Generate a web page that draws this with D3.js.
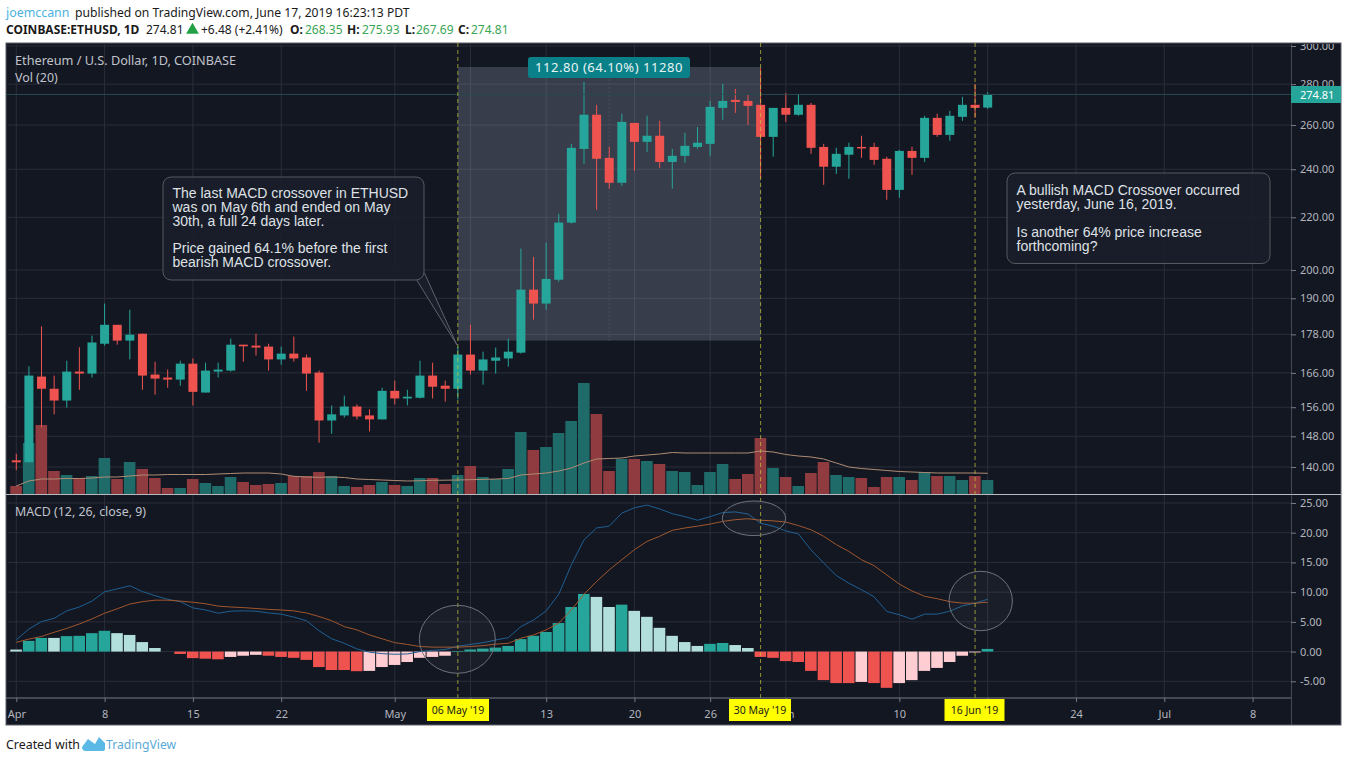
<!DOCTYPE html>
<html>
<head>
<meta charset="utf-8">
<script src="https://d3js.org/d3.v7.min.js"></script>
<style>
html, body { margin: 0; padding: 0; background: #fff; }
svg { display: block; }
text { font-family: "Noto Sans", sans-serif; }
.note text { font-family: "Liberation Sans", Arial, sans-serif; font-size: 14px; fill: #dfe1e6; }
.axis text { fill: #b2b5be; font-size: 11px; }
.axis path, .axis line { stroke: #787b86; }
</style>
</head>
<body>
<div id="chart"></div>
<script>
var days = ["04-01","04-02","04-03","04-04","04-05","04-06","04-07","04-08","04-09","04-10","04-11","04-12","04-13","04-14","04-15","04-16","04-17","04-18","04-19","04-20","04-21","04-22","04-23","04-24","04-25","04-26","04-27","04-28","04-29","04-30",
  "05-01","05-02","05-03","05-04","05-05","05-06","05-07","05-08","05-09","05-10","05-11","05-12","05-13","05-14","05-15","05-16","05-17","05-18","05-19","05-20","05-21","05-22","05-23","05-24","05-25","05-26","05-27","05-28","05-29","05-30","05-31",
  "06-01","06-02","06-03","06-04","06-05","06-06","06-07","06-08","06-09","06-10","06-11","06-12","06-13","06-14","06-15","06-16","06-17"];

var opens = [141.7,141.2,164.9,161.3,157.9,166.4,165.8,175.0,181.1,176.0,178.2,165.5,164.6,164.0,168.8,160.2,166.4,166.7,174.7,174.4,174.1,170.1,171.9,170.7,166.1,152.3,153.7,156.2,153.7,152.6,
  160.7,158.5,158.7,165.2,162.2,161.3,171.6,166.7,169.7,170.4,172.2,193.0,188.2,196.5,217.9,249.0,264.9,245.0,234.2,261.0,252.2,255.0,243.2,245.9,249.9,251.3,268.2,272.1,271.6,269.7,254.5,
  268.2,264.9,269.7,249.9,241.1,246.4,249.9,249.9,244.6,231.2,248.1,245.0,263.4,255.4,263.9,269.7,268.35];
var highs = [143.4,168.0,180.6,165.2,169.7,173.9,177.6,188.2,181.1,186.1,178.2,169.4,167.0,169.7,170.4,169.1,169.1,176.6,174.7,178.2,175.0,174.1,177.3,171.6,166.7,156.5,159.3,156.8,155.4,161.6,
  163.7,161.0,169.7,169.1,163.7,174.1,181.1,172.5,173.8,176.6,207.9,204.8,210.1,221.4,251.3,281.2,269.7,250.0,265.4,261.0,264.4,262.0,249.0,256.4,259.1,271.6,280.1,277.6,274.6,288.2,268.2,
  275.6,275.1,270.6,251.3,249.5,251.8,255.0,251.8,245.5,248.6,250.0,264.4,265.4,266.8,273.6,280.1,275.93];
var lows = [139.2,141.2,150.4,154.0,155.9,161.0,164.6,174.4,174.7,170.1,161.0,159.6,161.6,162.2,156.5,160.2,164.6,166.4,169.4,171.3,166.7,168.5,169.4,160.7,146.3,148.7,153.1,152.6,149.3,152.6,
  156.8,156.5,158.5,158.5,157.6,158.2,165.5,162.5,165.8,167.9,171.9,182.8,186.1,195.8,217.5,242.4,223.1,231.7,232.9,239.3,247.7,240.6,231.7,242.8,249.0,245.9,262.5,265.8,260.1,235.9,245.5,
  261.5,264.4,246.8,233.3,238.0,235.9,245.0,241.9,227.1,227.9,237.6,243.2,254.5,252.7,262.0,263.4,267.69];
var closes = [141.2,165.2,161.3,157.9,166.4,165.8,175.4,181.1,176.0,177.9,165.2,164.3,164.0,168.8,160.4,166.7,167.0,174.7,174.2,173.8,170.1,171.9,170.4,165.8,152.3,154.0,156.2,153.4,152.6,160.7,
  158.5,159.0,165.2,161.9,161.3,171.6,166.7,170.1,170.7,172.5,193.0,188.2,196.8,217.9,249.5,264.9,244.6,234.2,261.5,252.2,255.0,243.2,245.9,250.4,251.8,268.7,271.6,271.1,269.2,254.5,268.2,
  264.9,269.7,249.5,241.1,246.8,249.9,249.5,244.1,231.2,248.1,245.0,263.4,255.4,264.4,269.7,268.2,274.81];

var volumes = [8,51,69,23,19,16,18,36,15,32,25,16,6,6,15,11,8,17,12,9,10,11,18,18,22,18,8,7,9,12,
  9,8,16,16,10,19,28,17,15,25,62,44,47,61,73,111,80,23,35,35,33,30,23,22,9,22,30,15,20,56,26,
  17,8,21,32,19,17,16,7,17,17,14,22,18,18,14,18,14];
var volumeMA = [8,13,15,15,15.5,15.5,16,17,17,18,19,19,19.5,19.5,19.5,19.5,20,20.5,21,21,21,20,17.7,17,16.7,17,16.5,15,14.5,14,
  13.5,13,13.3,13.7,13.8,14,14.3,14.6,15,15.5,19,20,21,23,26,31,35,35.5,36,38,39,40,41.5,41,41,41,41,41,41,43,42,
  39.5,38,37,35,31,27,25.5,24.5,23.5,22.5,22,21.5,21,21,21,21,20.7];

var macdLine = [1.97,3.8,5.05,5.6,6.85,7.5,8.5,10.05,10.55,11.07,10.1,9.4,8.8,8.4,7.35,7.0,6.45,6.8,6.85,6.8,6.5,6.3,5.8,5.2,3.5,2.15,1.4,0.45,-0.1,-0.35,
  -0.45,-0.4,0,0.2,0.35,0.9,1.2,1.5,1.95,2.35,4.2,5.3,6.85,9.65,14.6,18.8,20.8,21.1,23.3,24.2,24.65,24,23.2,22.7,22.1,22.7,23.4,23.5,23.15,21.6,21.1,
  20.3,19.8,17.1,14.9,12.8,11.5,10.4,9.2,6.75,6.2,5.45,6.3,6.3,6.8,7.7,8.15,8.8];
var signalLine = [1.55,2.1,2.55,3.25,3.9,4.65,5.5,6.45,7.2,8.0,8.4,8.65,8.65,8.5,8.3,8.05,7.65,7.5,7.4,7.25,7.1,7.0,6.85,6.5,5.9,5.2,4.2,3.65,2.8,2.15,
  1.5,1.2,0.85,0.75,0.75,0.75,0.85,1.0,1.25,1.4,2.25,2.8,3.65,4.8,7,9.65,11.8,13.75,15.45,17.15,18.55,19.4,20.4,20.8,21.1,21.45,21.9,22.2,22.35,22.1,22,
  21.8,21.2,20.5,19.4,18,16.85,15.45,14.45,12.9,11.35,10.2,9.3,8.9,8.4,8.15,8.15,8.3];
var histogram = [0.34,1.8,2.3,2.3,2.6,2.65,3.1,3.5,3.1,2.8,1.6,0.6,0,-0.4,-1.1,-1.2,-1.3,-0.9,-0.7,-0.55,-0.7,-0.9,-1.05,-1.4,-2.6,-3.1,-3.1,-3.3,-3.25,-2.6,
  -2.25,-1.75,-1.05,-0.9,-0.7,0.1,0.35,0.5,0.67,0.95,2.1,2.65,3.3,4.8,7.5,9.7,9.2,7.5,7.9,6.85,5.85,4.0,2.65,1.6,0.95,1.3,1.45,1.1,0.6,-0.9,-1.05,
  -1.6,-1.75,-3.25,-4.8,-5.3,-5.3,-5.1,-5.3,-6.1,-5.3,-4.8,-3.25,-2.75,-1.75,-0.7,-0.15,0.45];

var priceTicks = [300,280,260,240,220,200,190,178,166,156,148,140];
var macdTicks = [25,20,15,10,5,0,-5];
var timeTicks = ["04-01","04-08","04-15","04-22","05-01","05-07","05-13","05-20","05-26","06-01","06-10","06-17","06-24","07-01","07-08"];
// 7 and 17 sit under the yellow date boxes in the original
var timeLabels = ["Apr","8","15","22","May","","13","20","26","Jun","10","","24","Jul","8"];
var crossDays = ["05-06","05-30","06-16"];
var crossLabels = ["06 May '19","30 May '19","16 Jun '19"];
var rangeLow = 176.0, rangeHigh = 288.8;
var lastPrice = 274.81;

var width = 1348, height = 762;
var left = 6, right = 1341, axisX = 1291, top_ = 43, paneBottom = 494, timeY = 698, bottom = 725;
var up = "#26a69a", down = "#ef5350", gridColor = "#2a2e3a";

var parseDay = d3.utcParse("%Y-%m-%d");
function toDate(s) { return parseDay("2019-" + s); }

var x = d3.scaleUtc().domain([toDate("04-01"), toDate("07-08")]).range([16.3, 1252.6]);
var yPrice = d3.scaleLog().domain([300, 140]).range([46, 467]);
var yVol = d3.scaleLinear().domain([0, 120]).range([paneBottom, paneBottom - 120]);
var yMacd = d3.scaleLinear().domain([25, -5]).range([503, 681.3]);

var bars = days.map(function(d, i) {
  return {x: x(toDate(d)), o: opens[i], h: highs[i], l: lows[i], c: closes[i], v: volumes[i],
    hist: histogram[i], prev: i > 0 ? histogram[i - 1] : 1};
});

var svg = d3.select("#chart").append("svg").attr("width", width).attr("height", height);

svg.append("rect").attr("x", left).attr("y", top_).attr("width", right - left).attr("height", bottom - top_)
  .attr("fill", "#131722").attr("stroke", "#5d606b");

svg.append("clipPath").attr("id", "paneclip").append("rect")
  .attr("x", 0).attr("y", top_ + 1).attr("width", width).attr("height", bottom - top_);

// grid
var grid = svg.append("g").attr("stroke", gridColor);
grid.selectAll(".gv").data(timeTicks).enter().append("line")
  .attr("x1", function(d) { return x(toDate(d)); }).attr("x2", function(d) { return x(toDate(d)); })
  .attr("y1", top_).attr("y2", timeY);
grid.selectAll(".gp").data(priceTicks).enter().append("line")
  .attr("x1", left).attr("x2", axisX)
  .attr("y1", function(d) { return yPrice(d); }).attr("y2", function(d) { return yPrice(d); });
grid.selectAll(".gm").data(macdTicks).enter().append("line")
  .attr("x1", left).attr("x2", axisX)
  .attr("y1", function(d) { return yMacd(d); }).attr("y2", function(d) { return yMacd(d); });

// price range tool
var x0 = x(toDate("05-06")), x1 = x(toDate("05-30"));
svg.append("rect").attr("x", x0).attr("y", yPrice(rangeHigh))
  .attr("width", x1 - x0).attr("height", yPrice(rangeLow) - yPrice(rangeHigh))
  .attr("fill", "#9ca7be").attr("fill-opacity", 0.27);
svg.append("line").attr("x1", (x0 + x1) / 2).attr("x2", (x0 + x1) / 2)
  .attr("y1", yPrice(rangeHigh)).attr("y2", yPrice(rangeLow))
  .attr("stroke", "#4c5262").attr("stroke-dasharray", "2,2");

// volume
svg.selectAll(".vol").data(bars).enter().append("rect")
  .attr("class", "vol")
  .attr("x", function(d) { return d.x - 6; })
  .attr("y", function(d) { return yVol(d.v); })
  .attr("width", 11.6)
  .attr("height", function(d) { return yVol(0) - yVol(d.v); })
  .attr("fill", function(d) { return d.c >= d.o ? "#1f6b69" : "#8f3b3f"; });

svg.append("path").datum(volumeMA)
  .attr("fill", "none").attr("stroke", "#b08c74").attr("stroke-width", 1)
  .attr("d", d3.line().x(function(d, i) { return bars[i].x; }).y(function(d) { return yVol(d); }));

// candles
var candle = svg.selectAll(".candle").data(bars).enter().append("g").attr("class", "candle")
  .attr("fill", function(d) { return d.c >= d.o ? up : down; })
  .attr("stroke", function(d) { return d.c >= d.o ? up : down; });
candle.append("line")
  .attr("x1", function(d) { return d.x; }).attr("x2", function(d) { return d.x; })
  .attr("y1", function(d) { return yPrice(d.h); }).attr("y2", function(d) { return yPrice(d.l); });
candle.append("rect")
  .attr("stroke", "none")
  .attr("x", function(d) { return d.x - 4.5; })
  .attr("width", 9)
  .attr("y", function(d) { return yPrice(Math.max(d.o, d.c)); })
  .attr("height", function(d) { return Math.max(1.5, Math.abs(yPrice(d.o) - yPrice(d.c))); });

// last price line
svg.append("line").attr("x1", left).attr("x2", axisX)
  .attr("y1", yPrice(lastPrice)).attr("y2", yPrice(lastPrice))
  .attr("stroke", "#264a4f");

// pane separator
svg.append("line").attr("x1", left).attr("x2", right).attr("y1", paneBottom + 0.5).attr("y2", paneBottom + 0.5)
  .attr("stroke", "#b8bac0");

// macd histogram
function histColor(d) {
  if (d.hist >= 0) return d.prev < d.hist ? "#26a69a" : "#b2dfdb";
  return d.prev < d.hist ? "#ffcdd2" : "#ef5350";
}
svg.selectAll(".hist").data(bars).enter().append("rect")
  .attr("class", "hist")
  .attr("x", function(d) { return d.x - 6; })
  .attr("width", 11.6)
  .attr("y", function(d) { return Math.min(yMacd(0), yMacd(d.hist)); })
  .attr("height", function(d) { return Math.abs(yMacd(d.hist) - yMacd(0)); })
  .attr("fill", histColor);

var macdPath = d3.line().x(function(d, i) { return bars[i].x; }).y(function(d) { return yMacd(d); });
svg.append("path").attr("d", macdPath(macdLine)).attr("fill", "none").attr("stroke", "#1f5f92");
svg.append("path").attr("d", macdPath(signalLine)).attr("fill", "none").attr("stroke", "#a0562e");

// crossover dashes
svg.selectAll(".cross").data(crossDays).enter().append("line")
  .attr("x1", function(d) { return x(toDate(d)); }).attr("x2", function(d) { return x(toDate(d)); })
  .attr("y1", top_).attr("y2", timeY + 4)
  .attr("stroke", "#c8cb3c").attr("stroke-dasharray", "4,3").attr("stroke-opacity", 0.7);

// circles on the macd pane
var circles = svg.append("g").attr("fill", "#ffffff").attr("fill-opacity", 0.03)
  .attr("stroke", "#6f727b").attr("stroke-width", 1);
circles.append("ellipse").attr("cx", x0 - 0.5).attr("cy", 639.3).attr("rx", 38).attr("ry", 34);
circles.append("ellipse").attr("cx", 754).attr("cy", 518.3).attr("rx", 31.7).attr("ry", 17.3);
circles.append("ellipse").attr("cx", 980.7).attr("cy", 601).attr("rx", 31.7).attr("ry", 29.7);

// axes
var priceAxis = d3.axisRight(yPrice).tickValues(priceTicks).tickSize(5).tickPadding(4)
  .tickFormat(function(d) { return d.toFixed(2); });
svg.append("g").attr("class", "axis").attr("clip-path", "url(#paneclip)")
  .attr("transform", "translate(" + axisX + ",0)").call(priceAxis)
  .select(".domain").attr("d", "M0," + top_ + "V" + bottom);

var macdAxis = d3.axisRight(yMacd).tickValues(macdTicks).tickSize(5).tickPadding(4)
  .tickFormat(function(d) { return d.toFixed(2); });
var macdG = svg.append("g").attr("class", "axis")
  .attr("transform", "translate(" + axisX + ",0)").call(macdAxis);
macdG.select(".domain").remove();

var timeAxis = d3.axisBottom(x).tickValues(timeTicks.map(toDate)).tickSize(4).tickPadding(8)
  .tickFormat(function(d, i) { return timeLabels[i]; });
var timeG = svg.append("g").attr("class", "axis")
  .attr("transform", "translate(0," + timeY + ")").call(timeAxis);
timeG.select(".domain").attr("d", "M" + left + ",0H" + axisX);

// last price tag
svg.append("rect").attr("x", axisX).attr("y", 86).attr("width", right - axisX).attr("height", 17).attr("fill", up);
svg.append("text").attr("x", 1300).attr("y", 98.5).attr("fill", "#fff").attr("font-size", 11).text(lastPrice.toFixed(2));

// yellow date boxes
var boxes = [[427, 62], [729, 62], [944.5, 60]];
crossLabels.forEach(function(t, i) {
  svg.append("rect").attr("x", boxes[i][0]).attr("y", 699).attr("width", boxes[i][1]).attr("height", 22).attr("fill", "#ffff00");
  svg.append("text").attr("x", boxes[i][0] + boxes[i][1] / 2).attr("y", 714).attr("text-anchor", "middle")
    .attr("fill", "#1a1a1a").attr("font-size", 10.5).text(t);
});

// range label
svg.append("rect").attr("x", 528).attr("y", 57).attr("width", 162).attr("height", 21).attr("rx", 3).attr("fill", "#0a8189");
svg.append("text").attr("x", 609).attr("y", 72).attr("text-anchor", "middle").attr("fill", "#e8f4f4")
  .attr("font-size", 13).attr("letter-spacing", 0.55).text("112.80 (64.10%) 11280");

// callouts
function note(xp, yp, w, h, lines, pointer) {
  var g = svg.append("g").attr("class", "note");
  if (pointer) {
    g.append("path").attr("d", pointer).attr("fill", "#1a1e2a").attr("stroke", "#5f626c");
  }
  g.append("rect").attr("x", xp).attr("y", yp).attr("width", w).attr("height", h).attr("rx", 8)
    .attr("fill", "#1a1e2a").attr("fill-opacity", 0.92).attr("stroke", "#55585f");
  lines.forEach(function(l) {
    g.append("text").attr("x", xp + 9.5).attr("y", l[0]).text(l[1]);
  });
  return g;
}
note(163, 177, 261, 103, [
  [197.5, "The last MACD crossover in ETHUSD"],
  [211.5, "was on May 6th and ended on May"],
  [225.5, "30th, a full 24 days later."],
  [253, "Price gained 64.1% before the first"],
  [267, "bearish MACD crossover."]
], "M416.7,280L457,345L424.3,272.7");
note(1007, 173, 263, 90.5, [
  [195, "A bullish MACD Crossover occurred"],
  [208.5, "yesterday, June 16, 2019."],
  [237, "Is another 64% price increase"],
  [251, "forthcoming?"]
]);

// pane titles
function paneTitle(t, yp, size) {
  svg.append("text").attr("x", 15).attr("y", yp).attr("fill", "#c0c3cb").attr("font-size", size).text(t);
}
paneTitle("Ethereum / U.S. Dollar, 1D, COINBASE", 65, 12.7);
paneTitle("Vol (20)", 82, 12.4);
paneTitle("MACD (12, 26, close, 9)", 516, 12.4);

// header
var ink = "#1a1a1a", green = "#3aa655";
function head(xp, yp, t, color, weight, size) {
  svg.append("text").attr("x", xp).attr("y", yp).attr("fill", color).attr("font-size", size || 12)
    .attr("font-weight", weight || "normal").text(t);
}
head(6, 17, "joemccann", "#4bb1de", "normal", 12.4);
head(75, 17, "published on TradingView.com, June 17, 2019 16:23:13 PDT", ink, "normal", 12.15);
head(6, 34, "COINBASE:ETHUSD, 1D", ink, "bold");
head(146, 34, "274.81", ink);
svg.append("path").attr("d", d3.symbol(d3.symbolTriangle, 70)()).attr("transform", "translate(192.5,30)").attr("fill", "#21a045");
head(201, 34, "+6.48 (+2.41%)", ink);
head(290, 34, "O:", ink, "bold");
head(305, 34, "268.35", green);
head(347, 34, "H:", ink, "bold");
head(362, 34, "275.93", green);
head(405, 34, "L:", ink, "bold");
head(416, 34, "267.69", green);
head(458, 34, "C:", ink, "bold");
head(471, 34, "274.81", green);

// footer
svg.append("text").attr("x", 6).attr("y", 749).attr("fill", ink).attr("font-size", 12.4).text("Created with");
svg.append("path").attr("d", "M82,747L88,739L95,744L99,737L105,743L105,749Q105,751 102,751L86,751Q82,751 82,747Z").attr("fill", "#5cb8e4");
svg.append("text").attr("x", 106).attr("y", 749).attr("fill", "#5aa9d6").attr("font-size", 12.2).text("TradingView");
</script>
</body>
</html>
